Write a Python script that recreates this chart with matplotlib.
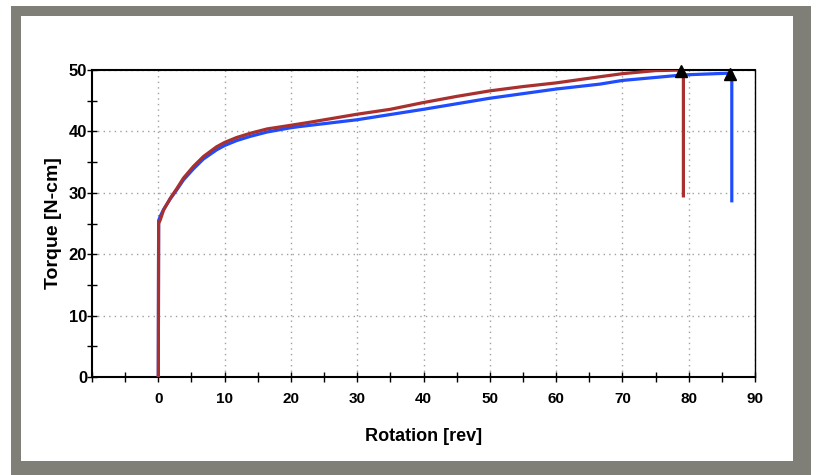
import matplotlib.pyplot as plt
from matplotlib.patches import Rectangle
from matplotlib.ticker import MultipleLocator

# sample 1 (red) and sample 2 (blue): rotation [rev] vs torque [N-cm]
red_x = [0, 0.05, 0.3, 0.8, 1.8, 2.8, 3.8, 5.3, 6.8, 8.8, 10, 11.8, 13.9, 16.4,
         20, 22.9, 30, 35, 40, 45, 50, 55, 60, 66.6, 70, 75, 79.2, 79.2]
red_y = [0, 25.0, 25.6, 27.2, 29.1, 30.7, 32.4, 34.3, 35.9, 37.5, 38.2, 39.0, 39.7, 40.4,
         41.0, 41.5, 42.8, 43.6, 44.7, 45.7, 46.6, 47.3, 47.9, 48.9, 49.4, 49.9, 50.0, 29.5]

blue_x = [0, 0.05, 0.3, 0.8, 1.8, 2.8, 3.8, 5.3, 6.8, 8.8, 10, 11.8, 13.9, 16.4,
          20, 21.4, 30, 40, 50, 60, 66.6, 70, 79.2, 86.5, 86.5]
blue_y = [0, 25.5, 26.2, 27.3, 29.0, 30.5, 32.1, 33.9, 35.5, 37.0, 37.7, 38.5, 39.2, 39.9,
          40.6, 40.8, 41.9, 43.6, 45.4, 46.9, 47.7, 48.3, 49.2, 49.5, 28.7]

# break points (end of test)
peak_x = [78.9, 86.2]
peak_y = [49.9, 49.3]

plt.rcParams['font.family'] = ['Liberation Sans Narrow', 'Liberation Sans', 'DejaVu Sans']
plt.rcParams['font.weight'] = 'bold'

fig = plt.figure(figsize=(8.16, 4.75), dpi=100)
# gray frame around the chart
fig.patches.append(Rectangle((11 / 816, 0), 800 / 816, 469 / 475, transform=fig.transFigure,
                             facecolor='#7f7f77', edgecolor='none', zorder=-2))
fig.patches.append(Rectangle((21 / 816, 14 / 475), 772 / 816, 445 / 475, transform=fig.transFigure,
                             facecolor='white', edgecolor='none', zorder=-1))

ax = fig.add_axes([92 / 816, 98 / 475, 663 / 816, 307 / 475])
ax.plot(blue_x, blue_y, color='#1f4cff', linewidth=2.3, zorder=3)
ax.plot(red_x, red_y, color='#a8302f', linewidth=2.3, zorder=4)
ax.plot(peak_x, peak_y, '^', color='black', markersize=9, zorder=5, clip_on=False)

ax.set_xlim(-10, 90)
ax.set_ylim(0, 50)
ax.set_xticks(range(0, 91, 10))
ax.set_yticks(range(0, 51, 10))
ax.xaxis.set_minor_locator(MultipleLocator(5))
ax.yaxis.set_minor_locator(MultipleLocator(5))
ax.tick_params(which='both', direction='inout', length=7, width=1, colors='black')
ax.tick_params(axis='x', labelsize=11, pad=7)
ax.tick_params(axis='y', labelsize=12, pad=0)
ax.grid(True, which='major', linestyle=(0, (1, 3)), color='#a0a0a0', linewidth=1)

for s in ax.spines.values():
    s.set_color('black')
ax.spines['bottom'].set_linewidth(1.5)
ax.spines['left'].set_linewidth(1.5)
ax.spines['top'].set_linewidth(1.5)
ax.spines['right'].set_linewidth(1)

ax.set_xlabel('Rotation [rev]', fontsize=13, fontweight='bold', labelpad=16)
ax.set_ylabel('Torque [N-cm]', fontsize=14, fontweight='bold', labelpad=5)

fig.savefig('out.png', dpi=100)
